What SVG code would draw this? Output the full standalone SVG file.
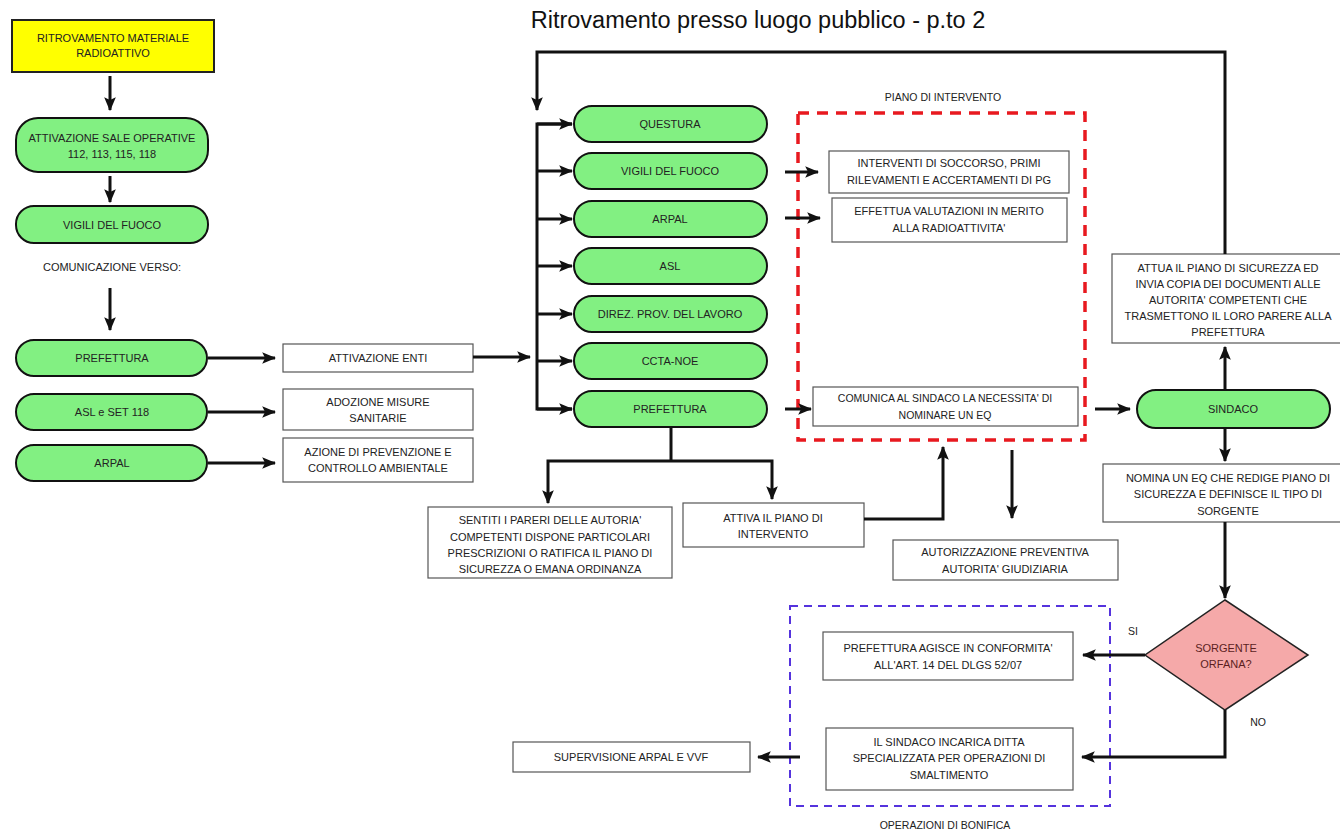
<svg xmlns="http://www.w3.org/2000/svg" width="1340" height="832" viewBox="0 0 1340 832">
<defs>
<marker id="ah" viewBox="0 0 12 10" refX="11" refY="5" markerWidth="14" markerHeight="12" markerUnits="userSpaceOnUse" orient="auto">
<path d="M0,0 L12,5 L0,10 L2.5,5 z" fill="#111"/>
</marker>
<style>
text{font-family:"Liberation Sans",Arial,sans-serif;font-size:11px;fill:#222;text-anchor:middle}
.pill{fill:#82f082;stroke:#111;stroke-width:2}
.box{fill:#fff;stroke:#555;stroke-width:1.2}
.c{fill:none;stroke:#111;stroke-width:3}
.ca{fill:none;stroke:#111;stroke-width:3;marker-end:url(#ah)}
.title{font-size:23.5px;fill:#111}
.sm{font-size:10.5px}
</style>
</defs>
<rect width="1340" height="832" fill="#fff"/>
<text class="title" x="758" y="28">Ritrovamento presso luogo pubblico - p.to 2</text>

<g id="n-ritrovamento"><rect x="12" y="20" width="202" height="52" fill="#ffff00" stroke="#222" stroke-width="2"/><text x="113" y="42">RITROVAMENTO MATERIALE</text><text x="113" y="57">RADIOATTIVO</text></g>
<g id="n-sale"><rect class="pill" x="16" y="118" width="192" height="54" rx="22"/><text x="112" y="142">ATTIVAZIONE SALE OPERATIVE</text><text x="112" y="158">112, 113, 115, 118</text></g>
<g id="n-vvf1"><rect class="pill" x="16" y="206" width="192" height="37" rx="18"/><text x="112" y="229">VIGILI DEL FUOCO</text></g>
<g id="t-com"><text x="112" y="271">COMUNICAZIONE VERSO:</text></g>
<g id="n-pref1"><rect class="pill" x="16" y="340" width="191" height="36" rx="18"/><text x="112" y="362">PREFETTURA</text></g>
<g id="n-asl1"><rect class="pill" x="16" y="394" width="191" height="36" rx="18"/><text x="112" y="416">ASL e SET 118</text></g>
<g id="n-arpal1"><rect class="pill" x="16" y="445" width="191" height="36" rx="18"/><text x="112" y="467">ARPAL</text></g>
<g id="n-attenti"><rect class="box" x="283" y="344" width="190" height="28"/><text x="378" y="362">ATTIVAZIONE ENTI</text></g>
<g id="n-adoz"><rect class="box" x="283" y="389" width="190" height="41"/><text x="378" y="406">ADOZIONE MISURE</text><text x="378" y="422">SANITARIE</text></g>
<g id="n-azione"><rect class="box" x="283" y="438" width="190" height="44"/><text x="378" y="456">AZIONE DI PREVENZIONE E</text><text x="378" y="472">CONTROLLO AMBIENTALE</text></g>

<g id="n-questura"><rect class="pill" x="574" y="106" width="193" height="36" rx="18"/><text x="670" y="128">QUESTURA</text></g>
<g id="n-vvf2"><rect class="pill" x="574" y="153" width="193" height="36" rx="18"/><text x="670" y="175">VIGILI DEL FUOCO</text></g>
<g id="n-arpal2"><rect class="pill" x="574" y="201" width="193" height="36" rx="18"/><text x="670" y="223">ARPAL</text></g>
<g id="n-asl2"><rect class="pill" x="574" y="248" width="193" height="36" rx="18"/><text x="670" y="270">ASL</text></g>
<g id="n-direz"><rect class="pill" x="574" y="296" width="193" height="36" rx="18"/><text x="670" y="318">DIREZ. PROV. DEL LAVORO</text></g>
<g id="n-ccta"><rect class="pill" x="574" y="343" width="193" height="36" rx="18"/><text x="670" y="365">CCTA-NOE</text></g>
<g id="n-pref2"><rect class="pill" x="574" y="391" width="193" height="36" rx="18"/><text x="670" y="413">PREFETTURA</text></g>

<g id="g-piano"><rect x="798" y="113" width="287" height="327" fill="none" stroke="#e8191f" stroke-width="3.5" stroke-dasharray="11 8"/><text class="sm" x="943" y="101">PIANO DI INTERVENTO</text></g>
<g id="n-interventi"><rect class="box" x="829" y="151" width="240" height="42"/><text x="949" y="167">INTERVENTI DI SOCCORSO, PRIMI</text><text x="949" y="184">RILEVAMENTI E ACCERTAMENTI DI PG</text></g>
<g id="n-effettua"><rect class="box" x="832" y="198" width="235" height="44"/><text x="949" y="215">EFFETTUA VALUTAZIONI IN MERITO</text><text x="949" y="232">ALLA RADIOATTIVITA'</text></g>
<g id="n-comunica"><rect class="box" x="813" y="387" width="265" height="39"/><text class="sm" x="945" y="402">COMUNICA AL SINDACO LA NECESSITA' DI</text><text class="sm" x="945" y="419">NOMINARE UN EQ</text></g>

<g id="n-sindaco"><rect class="pill" x="1137" y="390" width="193" height="38" rx="19"/><text x="1233" y="413">SINDACO</text></g>
<g id="n-attua"><rect class="box" x="1112" y="254" width="235" height="89"/><text x="1228" y="272">ATTUA IL PIANO DI SICUREZZA ED</text><text x="1228" y="288">INVIA COPIA DEI DOCUMENTI ALLE</text><text x="1228" y="304">AUTORITA' COMPETENTI CHE</text><text x="1228" y="320">TRASMETTONO IL LORO PARERE ALLA</text><text x="1228" y="336">PREFETTURA</text></g>
<g id="n-nomina"><rect class="box" x="1103" y="464" width="245" height="58"/><text x="1228" y="482">NOMINA UN EQ CHE REDIGE PIANO DI</text><text x="1228" y="498">SICUREZZA E DEFINISCE IL TIPO DI</text><text x="1228" y="515">SORGENTE</text></g>
<g id="n-sorgente"><polygon points="1225,600 1308,655 1225,710 1145,655" fill="#f5a9a9" stroke="#222" stroke-width="1.5"/><text x="1226" y="652" style="fill:#5c1e1e">SORGENTE</text><text x="1226" y="668" style="fill:#5c1e1e">ORFANA?</text></g>

<g id="g-bonifica"><rect x="790" y="606" width="320" height="200" fill="none" stroke="#5533dd" stroke-width="2" stroke-dasharray="8 6"/><text class="sm" x="945" y="829">OPERAZIONI DI BONIFICA</text></g>
<g id="n-prefagisce"><rect class="box" x="823" y="632" width="250" height="48"/><text x="948" y="652">PREFETTURA AGISCE IN CONFORMITA'</text><text x="948" y="669">ALL'ART. 14 DEL DLGS 52/07</text></g>
<g id="n-incarica"><rect class="box" x="826" y="728" width="247" height="62"/><text x="949" y="746">IL SINDACO INCARICA DITTA</text><text x="949" y="762">SPECIALIZZATA PER OPERAZIONI DI</text><text x="949" y="779">SMALTIMENTO</text></g>
<g id="n-supervisione"><rect class="box" x="513" y="742" width="237" height="30"/><text x="631" y="761">SUPERVISIONE ARPAL E VVF</text></g>

<g id="n-sentiti"><rect class="box" x="428" y="507" width="244" height="71"/><text x="550" y="524">SENTITI I PARERI DELLE AUTORIA'</text><text x="550" y="541">COMPETENTI DISPONE PARTICOLARI</text><text x="550" y="557">PRESCRIZIONI O RATIFICA IL PIANO DI</text><text x="550" y="573">SICUREZZA O EMANA ORDINANZA</text></g>
<g id="n-attiva"><rect class="box" x="683" y="503" width="181" height="44"/><text x="773" y="522">ATTIVA IL PIANO DI</text><text x="773" y="538">INTERVENTO</text></g>
<g id="n-autorizz"><rect class="box" x="893" y="540" width="225" height="40"/><text x="1005" y="556">AUTORIZZAZIONE PREVENTIVA</text><text x="1005" y="573">AUTORITA' GIUDIZIARIA</text></g>

<g id="labels"><text class="sm" x="1133" y="635">SI</text><text class="sm" x="1258" y="726">NO</text></g>

<g id="connectors">
<line class="ca" x1="110" y1="76" x2="110" y2="110"/>
<line class="ca" x1="110" y1="176" x2="110" y2="202"/>
<line class="ca" x1="110" y1="288" x2="110" y2="330"/>
<line class="ca" x1="208" y1="358" x2="275" y2="358"/>
<line class="ca" x1="208" y1="412" x2="275" y2="412"/>
<line class="ca" x1="208" y1="463" x2="275" y2="463"/>
<line class="ca" x1="473" y1="357" x2="530" y2="357"/>
<path class="c" d="M572,124 L537,124 L537,409 L572,409"/>
<line class="ca" x1="537" y1="124" x2="572" y2="124"/>
<line class="ca" x1="537" y1="171" x2="572" y2="171"/>
<line class="ca" x1="537" y1="219" x2="572" y2="219"/>
<line class="ca" x1="537" y1="266" x2="572" y2="266"/>
<line class="ca" x1="537" y1="314" x2="572" y2="314"/>
<line class="ca" x1="537" y1="361" x2="572" y2="361"/>
<line class="ca" x1="537" y1="409" x2="572" y2="409"/>
<path class="ca" d="M1225,254 L1225,52 L537,52 L537,110"/>
<line class="ca" x1="785" y1="172" x2="818" y2="172"/>
<line class="ca" x1="785" y1="218" x2="820" y2="218"/>
<line class="ca" x1="785" y1="409" x2="811" y2="409"/>
<line class="ca" x1="1095" y1="409" x2="1130" y2="409"/>
<line class="ca" x1="1225" y1="390" x2="1225" y2="347"/>
<line class="ca" x1="1225" y1="428" x2="1225" y2="461"/>
<line class="ca" x1="1225" y1="522" x2="1225" y2="598"/>
<line class="ca" x1="1145" y1="655" x2="1083" y2="655"/>
<path class="ca" d="M1225,710 L1225,757 L1082,757"/>
<line class="ca" x1="800" y1="757" x2="758" y2="757"/>
<line class="c" x1="671" y1="427" x2="671" y2="461"/>
<path class="ca" d="M671,461 L548,461 L548,503"/>
<path class="ca" d="M671,461 L772,461 L772,499"/>
<path class="ca" d="M864,519 L943,519 L943,447"/>
<line class="ca" x1="1012" y1="450" x2="1012" y2="518"/>
</g>
</svg>
